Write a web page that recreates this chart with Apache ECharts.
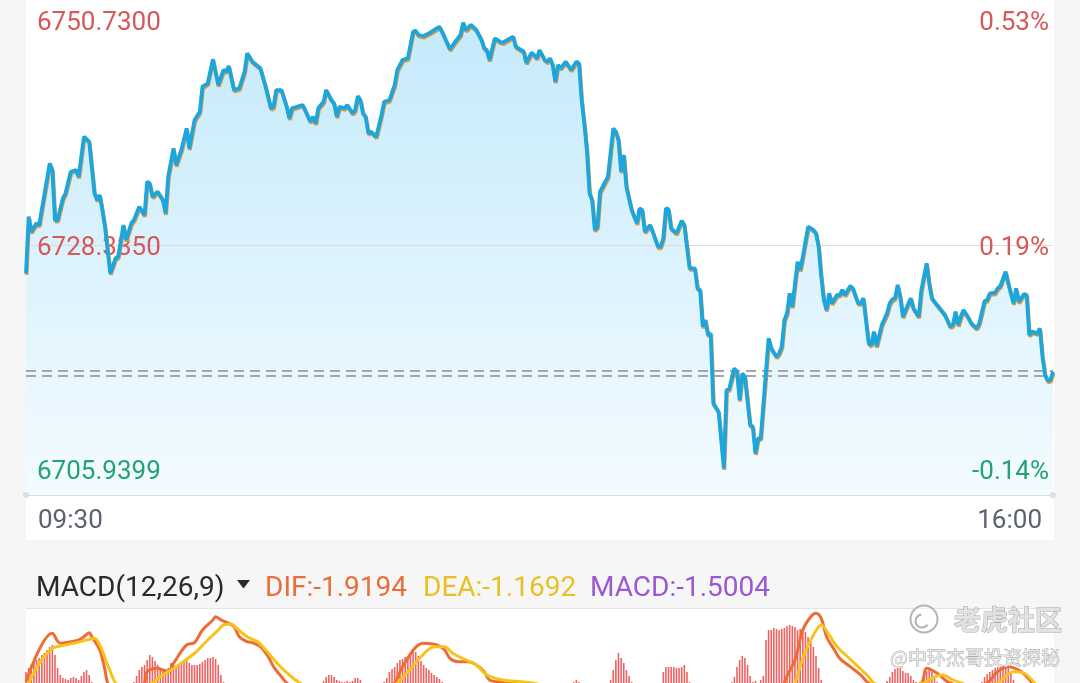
<!DOCTYPE html>
<html><head><meta charset="utf-8">
<script src="https://cdn.jsdelivr.net/npm/echarts@6/dist/echarts.min.js"></script>
<style>html,body{margin:0;padding:0;background:#f6f6f6;}#c{width:1080px;height:683px;}</style>
</head><body><div id="c"></div>
<script>
// ---- intraday price (minute index from 09:30, price) ----
const priceMinutes = [0,1,2,4,5,9,10,11,12,14,15,17,19,20,22,24,26,27,28,29,30,32,34,35,37,38,40,41,43,45,46,47,48,50,52,53,54,56,57,59,61,62,64,66,67,69,71,73,75,76,77,79,81,83,84,86,89,91,93,94,95,97,99,100,101,105,106,108,109,110,111,113,114,116,117,118,119,121,122,124,125,126,127,128,129,130,131,133,135,136,138,140,141,143,145,147,148,149,151,153,155,157,158,161,163,165,166,167,169,171,173,174,175,176,178,180,181,185,186,187,189,190,192,193,194,195,197,198,199,200,201,202,203,205,207,209,210,211,212,213,214,215,216,217,218,219,221,223,224,225,226,227,228,230,232,233,234,235,237,238,240,241,242,243,244,245,247,249,250,252,254,255,256,257,258,259,260,261,263,265,266,267,269,270,271,272,273,275,276,277,278,279,282,283,285,286,287,288,289,290,291,293,294,295,297,299,300,301,302,303,304,305,306,308,309,310,311,313,314,316,317,318,320,321,322,323,325,327,328,329,330,331,332,333,334,336,337,339,340,342,343,344,346,347,349,351,352,353,354,355,356,358,359,361,362,364,365,366,368,369,370,372,373,375,376,377,379,380,381,382,384,385,386,387,388,389,390];
const priceValues = [6725.84,6730.92,6729.57,6730.33,6730.17,6735.71,6735.11,6730.62,6730.62,6732.57,6733.02,6734.96,6735.11,6734.51,6738.10,6737.65,6733.02,6732.42,6732.87,6731.52,6730.02,6725.84,6727.19,6727.33,6730.17,6728.83,6730.33,6730.62,6731.82,6731.07,6734.06,6733.92,6732.72,6733.16,6732.42,6731.23,6734.51,6737.06,6735.56,6736.91,6738.85,6737.06,6739.60,6740.34,6742.59,6742.89,6745.05,6742.74,6744.09,6743.94,6744.45,6742.29,6742.45,6743.94,6745.59,6744.83,6744.24,6742.59,6740.65,6740.79,6742.29,6742.29,6740.79,6739.75,6740.65,6740.95,6740.50,6739.45,6739.90,6739.30,6740.65,6741.24,6742.29,6741.39,6741.10,6739.90,6740.79,6740.65,6740.95,6740.20,6740.50,6741.75,6741.39,6740.20,6739.90,6738.41,6738.55,6738.10,6740.05,6741.24,6741.39,6742.74,6744.09,6744.99,6745.14,6747.53,6747.62,6747.23,6747.14,6747.38,6747.68,6747.97,6747.53,6745.95,6746.63,6747.23,6748.33,6747.68,6748.13,6747.68,6746.78,6746.04,6745.88,6744.99,6746.93,6746.63,6746.54,6747.08,6746.18,6746.04,6745.73,6744.74,6745.64,6745.43,6745.14,6745.88,6744.99,6744.83,6745.14,6744.54,6743.04,6744.54,6744.24,6744.83,6744.09,6744.83,6744.69,6741.39,6739.30,6736.91,6733.05,6732.42,6729.73,6730.02,6733.16,6733.61,6734.51,6738.85,6738.55,6737.80,6734.96,6736.46,6733.61,6731.52,6730.33,6731.67,6731.52,6729.57,6730.17,6729.57,6728.23,6728.23,6728.98,6731.67,6731.58,6729.88,6729.43,6730.56,6730.17,6726.29,6726.29,6724.49,6724.34,6721.05,6721.65,6720.30,6720.45,6714.17,6713.42,6708.34,6715.36,6715.43,6717.31,6717.01,6714.47,6716.86,6716.56,6712.22,6712.07,6709.68,6711.03,6711.03,6720.01,6719.11,6718.35,6718.66,6719.25,6721.65,6722.25,6724.04,6722.84,6726.88,6726.14,6727.33,6730.02,6729.73,6729.43,6728.23,6725.53,6723.44,6722.55,6724.04,6723.15,6723.89,6723.89,6724.34,6723.89,6724.70,6724.49,6723.15,6723.15,6723.60,6719.56,6719.40,6720.60,6719.31,6721.20,6722.25,6723.15,6723.51,6723.60,6724.79,6723.74,6721.94,6722.55,6723.60,6722.70,6721.94,6724.34,6726.74,6724.94,6723.60,6722.99,6722.70,6722.10,6721.05,6721.20,6722.39,6721.20,6721.94,6722.55,6721.80,6721.35,6720.90,6721.35,6723.35,6723.44,6724.04,6724.10,6724.49,6724.70,6725.98,6724.94,6723.15,6724.49,6723.29,6723.98,6723.89,6720.30,6720.60,6720.45,6720.90,6718.35,6716.71,6716.20,6716.26,6717.01];
const prevCloseLines = [6717.10, 6716.65];

// ---- axis tick labels ----
const priceAxisMin = 6705.9399, priceAxisMax = 6750.73;
const priceTickLabels = ['6705.9399', '6728.3350', '6750.7300'];
const pctTickLabels = ['-0.14%', '0.19%', '0.53%'];
const timeTickLabels = ['09:30', '16:00'];

// ---- MACD(12,26,9) ----
const macdName = 'MACD(12,26,9)';
const difLast = -1.9194, deaLast = -1.1692, macdLast = -1.5004;
const difMinutes = [0,10,13,17,20,22,24,25,28,30,31,34,39,43,45,46,50,52,54,56,61,64,67,71,72,74,77,79,81,84,86,89,92,94,97,99,105,113,120,126,132,136,140,143,147,149,151,156,159,161,164,168,171,174,176,180,184,188,192,200,206,212,218,224,230,236,244,252,258,265,272,278,280,284,288,292,295,298,300,302,304,307,309,313,317,320,326,333,340,342,346,349,351,358,365,369,373,377,380,382,390];
const difValues = [0.33,3.36,2.73,2.83,2.94,3.14,3.39,3.14,2.31,1.06,0.25,-0.6,-0.9,-0.4,0.25,0.96,1.17,1.06,0.96,1.48,2.63,2.77,3.56,4.19,4.39,4.19,3.98,3.77,3.14,2.83,2.77,2.52,1.89,1.27,0.64,0.25,-0.5,-0.6,-0.3,-0.25,-0.5,-0.4,0.25,1.27,2.31,2.63,2.73,2.63,2.31,1.79,1.58,1.58,1.38,0.96,0.44,0.33,0.33,0.25,-0.1,-0.3,-0.2,-1.5,-3.5,-2.6,-2.9,-3.2,-2.7,-3.3,-4.5,-7.5,-6.8,-7.2,-6.0,-3.0,0.25,1.69,3.56,4.39,4.61,4.29,3.14,2.31,1.79,1.27,0.75,0.25,-0.1,0.0,0.25,1.17,0.86,0.44,0.25,-0.1,0.25,0.96,1.27,1.06,0.64,0.25,difLast];
const deaMinutes = [0,1,5,10,13,18,23,26,28,31,34,38,44,48,52,57,64,69,73,75,78,80,84,88,91,96,100,104,110,120,130,137,141,145,150,155,159,162,167,171,175,181,188,192,200,212,220,232,245,258,268,280,286,292,295,299,302,305,308,312,316,320,322,330,341,345,348,352,355,362,369,375,379,383,390];
const deaValues = [0.0,0.25,1.48,2.42,2.56,2.73,2.94,3.04,2.63,1.38,0.25,-0.5,-0.6,0.25,0.75,1.27,2.11,2.94,3.56,3.88,3.94,3.67,3.14,2.83,2.31,1.38,0.75,0.25,-0.3,-0.5,-0.45,-0.3,0.25,0.96,1.89,2.52,2.52,2.11,1.69,1.38,0.75,0.44,0.33,0.25,0.0,-0.6,-1.8,-2.4,-2.6,-3.2,-4.8,-4.6,-1.5,0.25,1.79,3.25,3.88,3.25,2.52,1.89,1.27,0.64,0.25,-0.1,0.25,0.64,0.75,0.44,0.25,-0.1,0.25,0.96,0.86,0.25,deaLast];
// visible histogram bars: first minute of each cluster, then one value per minute
const macdBarStarts = [0,41,113,136,208,222,242,268,279,327,340,363];
const macdBarValues = [
  [0.94,1.19,1.38,1.56,1.69,1.81,2.00,2.13,2.31,2.50,2.63,2.00,1.19,0.75,0.56,0.50,0.44,0.56,0.63,0.56,0.44,0.69,0.94,1.06,0.75,0.31],
  [0.31,0.69,1.06,1.25,1.38,1.69,2.00,1.88,1.63,1.38,1.19,1.06,1.13,1.19,1.50,1.38,1.25,1.44,1.56,1.63,1.69,1.50,1.38,1.38,1.38,1.44,1.56,1.69,1.81,1.81,1.88,1.75,1.38,0.75,0.31],
  [0.38,0.63,0.75,0.75,0.63,0.44,0.38,0.31,0.31,0.38,0.31,0.38,0.56,0.56,0.44,0.25],
  [0.31,0.56,0.94,1.13,1.25,1.50,1.69,1.75,1.88,1.94,2.06,2.19,2.19,1.94,1.63,1.38,1.19,1.06,0.88,0.75,0.63,0.50,0.31],
  [0.31,0.44,0.31],
  [0.44,1.06,1.69,2.13,1.81,1.50,1.06,0.69,0.31],
  [0.94,1.25,1.25,1.25,1.25,1.19,1.19,1.25,1.38,0.94,0.31],
  [0.31,0.63,1.25,1.69,1.94,1.81,1.38,0.69,0.31,0.38],
  [0.44,0.69,2.94,3.56,3.56,3.69,3.63,3.56,3.63,3.69,3.81,3.88,3.81,3.75,3.56,3.63,3.69,3.44,3.13,2.81,2.50,1.94,1.19,0.44],
  [0.38,0.63,0.94,1.13,1.25,1.19,1.00,0.88,0.88,0.69,0.44,0.31],
  [0.31,0.69,1.00,1.19,0.94,0.63,0.31],
  [0.31,0.63,0.81,0.94,1.06,1.19,1.25,1.25,1.31,1.38,1.25,0.94,0.44]
];

const priceData = priceMinutes.map((m, i) => [m, priceValues[i]]);
const difData = difMinutes.map((m, i) => [m, difValues[i]]);
const deaData = deaMinutes.map((m, i) => [m, deaValues[i]]);
const barData = [];
macdBarStarts.forEach((s, k) => macdBarValues[k].forEach((v, j) => barData.push([s + j, v])));
barData.push([390, macdLast]);

const RED = '#d65858', GREEN = '#22a373', FONT = 'Roboto';
const chart = echarts.init(document.getElementById('c'), null, {renderer: 'canvas'});
chart.setOption({
  animation: false,
  backgroundColor: '#f6f6f6',
  grid: [
    {left: 26, top: -4, width: 1027, height: 499, outerBoundsMode: 'none'},
    {left: 26, top: 609, width: 1027, height: 160, outerBoundsMode: 'none'}
  ],
  xAxis: [
    {type: 'value', gridIndex: 0, min: 0, max: 390, interval: 390, z: 4,
     axisLine: {show: true, lineStyle: {color: '#dedede', width: 1}, symbol: ['circle', 'circle'], symbolSize: [6, 6]},
     axisTick: {show: false}, splitLine: {show: false},
     axisLabel: {show: true, margin: 13, fontFamily: FONT, fontSize: 26, color: '#5b6170',
       alignMinLabel: 'left', alignMaxLabel: 'right',
       formatter: (v, i) => (i === 0 ? '{l|' : '{r|') + timeTickLabels[i] + '}',
       rich: {l: {fontFamily: FONT, fontSize: 26, color: '#5b6170', padding: [0, 0, 0, 12]},
              r: {fontFamily: FONT, fontSize: 26, color: '#5b6170', padding: [0, 11, 0, 0]}}}},
    {type: 'value', gridIndex: 1, min: 0, max: 390, show: false}
  ],
  yAxis: [
    {type: 'value', gridIndex: 0, position: 'left', min: priceAxisMin, max: priceAxisMax, z: 4,
     interval: (priceAxisMax - priceAxisMin) / 2,
     axisLine: {show: false}, axisTick: {show: false},
     splitLine: {show: true, lineStyle: {color: '#dcdcdc', width: 1}},
     axisLabel: {inside: true, margin: 11, fontFamily: FONT, fontSize: 26,
       formatter: (v, i) => ['{g|', '{m|', '{t|'][i] + priceTickLabels[i] + '}',
       rich: {g: {fontFamily: FONT, fontSize: 26, color: GREEN, padding: [0, 0, 46, 0]},
              m: {fontFamily: FONT, fontSize: 26, color: RED, padding: [5, 0, 0, 0]},
              t: {fontFamily: FONT, fontSize: 26, color: RED, padding: [54, 0, 0, 0]}}}},
    {type: 'value', gridIndex: 0, position: 'right', min: priceAxisMin, max: priceAxisMax, z: 4,
     interval: (priceAxisMax - priceAxisMin) / 2,
     axisLine: {show: false}, axisTick: {show: false}, splitLine: {show: false},
     axisLabel: {inside: true, margin: 4, fontFamily: FONT, fontSize: 26,
       formatter: (v, i) => ['{g|', '{m|', '{t|'][i] + pctTickLabels[i] + '}',
       rich: {g: {fontFamily: FONT, fontSize: 26, color: GREEN, padding: [0, 0, 46, 0]},
              m: {fontFamily: FONT, fontSize: 26, color: RED, padding: [5, 0, 0, 0]},
              t: {fontFamily: FONT, fontSize: 26, color: RED, padding: [54, 0, 0, 0]}}}},
    {type: 'value', gridIndex: 1, min: -5.125, max: 4.875, show: false}
  ],
  series: [
    {type: 'line', name: 'priceArea', xAxisIndex: 0, yAxisIndex: 0, data: priceData,
     symbol: 'none', z: 1, lineStyle: {width: 0, opacity: 0},
     areaStyle: {opacity: 1, color: new echarts.graphic.LinearGradient(0, 0, 0, 1, [
       {offset: 0, color: '#c5eafb'}, {offset: 1, color: '#f3fbff'}])},
     markLine: {silent: true, symbol: ['none', 'none'], label: {show: false},
       lineStyle: {type: [10, 6], color: '#a3a6ae', width: 1.8},
       data: prevCloseLines.map(v => ({yAxis: v}))}},
    {type: 'line', name: 'price', xAxisIndex: 0, yAxisIndex: 0, data: priceData,
     symbol: 'none', z: 6,
     lineStyle: {color: '#1ba6dd', width: 3.8, shadowColor: 'rgba(214,150,70,0.95)', shadowOffsetX: 0.6, shadowOffsetY: 1.6, shadowBlur: 0}},
    {type: 'bar', name: 'MACD', xAxisIndex: 1, yAxisIndex: 2, data: barData,
     barWidth: 1.6, itemStyle: {color: '#ee6262'}},
    {type: 'line', name: 'DIF', xAxisIndex: 1, yAxisIndex: 2, data: difData,
     symbol: 'none', smooth: 0.35, lineStyle: {color: '#ee6b33', width: 3}},
    {type: 'line', name: 'DEA', xAxisIndex: 1, yAxisIndex: 2, data: deaData,
     symbol: 'none', smooth: 0.35, lineStyle: {color: '#f6c31c', width: 3}}
  ],
  graphic: [
    {type: 'rect', z: -10, shape: {x: 26, y: 0, width: 1028, height: 540}, style: {fill: '#ffffff'}},
    {type: 'rect', z: -10, shape: {x: 26, y: 609, width: 1028, height: 80}, style: {fill: '#ffffff'}},
    {type: 'line', z: -9, shape: {x1: 26, y1: 608.5, x2: 1054, y2: 608.5}, style: {stroke: '#e3e3e3', lineWidth: 1}},
    {type: 'text', z: 10, x: 36, y: 589, style: {text: macdName, fill: '#2a2a2a', font: '28px Roboto', textVerticalAlign: 'middle', verticalAlign: 'middle'}},
    {type: 'polygon', z: 10, shape: {points: [[237, 580], [250, 580], [243.5, 588.5]]}, style: {fill: '#2a2a2a'}},
    {type: 'text', z: 10, x: 265, y: 589, style: {text: 'DIF:' + difLast.toFixed(4), fill: '#ea6f37', font: '28px Roboto', textVerticalAlign: 'middle', verticalAlign: 'middle'}},
    {type: 'text', z: 10, x: 423, y: 589, style: {text: 'DEA:' + deaLast.toFixed(4), fill: '#e8c024', font: '28px Roboto', textVerticalAlign: 'middle', verticalAlign: 'middle'}},
    {type: 'text', z: 10, x: 590, y: 589, style: {text: 'MACD:' + macdLast.toFixed(4), fill: '#9a58d2', font: '28px Roboto', textVerticalAlign: 'middle', verticalAlign: 'middle'}},
    {type: 'circle', z: 20, shape: {cx: 924, cy: 619, r: 13.5}, style: {fill: 'rgba(255,255,255,0.5)', stroke: '#b5b5b5', lineWidth: 2}},
    {type: 'arc', z: 20, shape: {cx: 922, cy: 621, r: 6.5, startAngle: 0.6, endAngle: 4.6}, style: {stroke: '#b5b5b5', lineWidth: 2.2, fill: 'none'}},
    {type: 'text', z: 20, x: 954, y: 620, style: {text: '老虎社区', fill: '#e2e2e2', stroke: '#a5a5a5', lineWidth: 1, font: 'bold 27px "Noto Sans CJK SC"', textVerticalAlign: 'middle', verticalAlign: 'middle'}},
    {type: 'text', z: 20, x: 1060, y: 658, style: {text: '@中环杰哥投资探秘', fill: '#e6e6e6', stroke: '#a8a8a8', lineWidth: 0.8, font: '19px "Noto Sans CJK SC"', textAlign: 'right', align: 'right', textVerticalAlign: 'middle', verticalAlign: 'middle'}}
  ]
});
</script></body></html>
